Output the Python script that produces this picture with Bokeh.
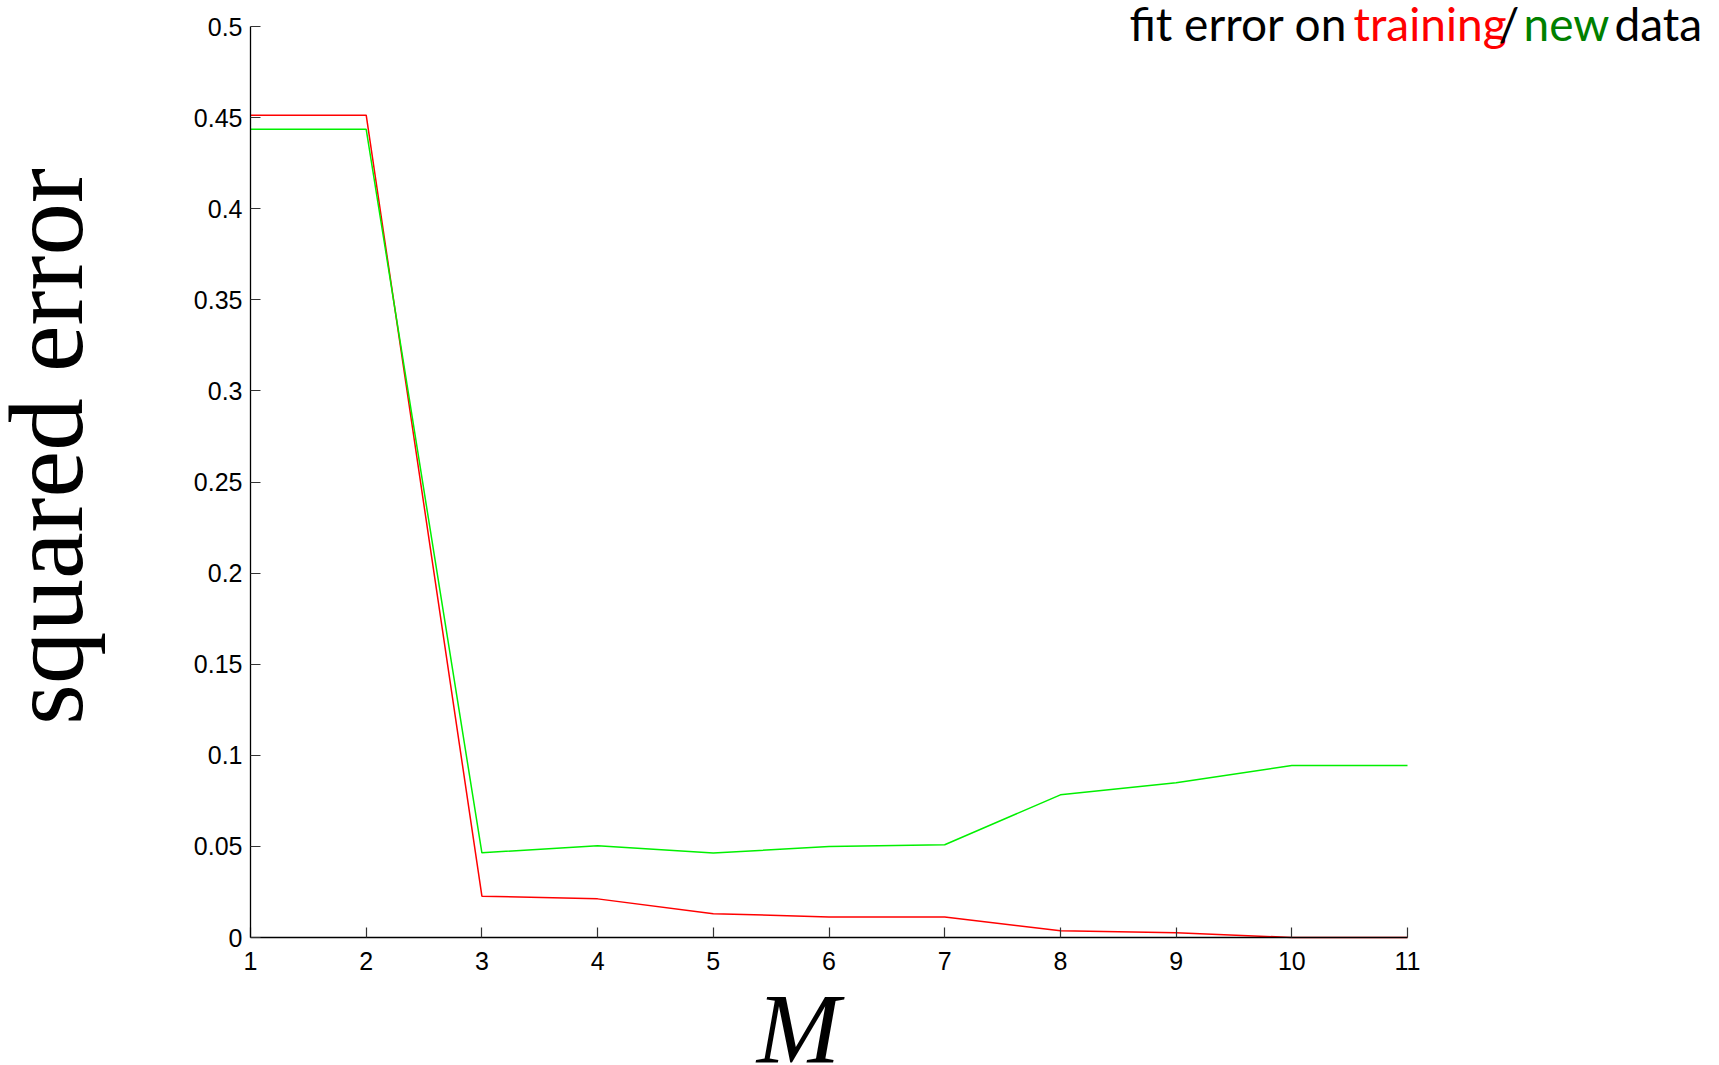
import math
from bokeh.plotting import figure
from bokeh.models import Range1d, FixedTicker, Label
from bokeh.embed import file_html
from bokeh.resources import INLINE

# ---- data ----
M = [1, 2, 3, 4, 5, 6, 7, 8, 9, 10, 11]
train_err = [0.4513, 0.4513, 0.0227, 0.0212, 0.0131, 0.0113, 0.0113, 0.0037, 0.0026, 0.0, 0.0]
new_err = [0.4436, 0.4436, 0.0465, 0.0503, 0.0464, 0.0499, 0.0509, 0.0783, 0.0849, 0.0944, 0.0944]

x_ticks = [1, 2, 3, 4, 5, 6, 7, 8, 9, 10, 11]
y_ticks = [0, 0.05, 0.1, 0.15, 0.2, 0.25, 0.3, 0.35, 0.4, 0.45, 0.5]
y_tick_labels = ["0", "0.05", "0.1", "0.15", "0.2", "0.25", "0.3", "0.35", "0.4", "0.45", "0.5"]

title_parts = ["fit error on", "training", "/", "new", "data"]
title_colors = ["#000000", "#FF0000", "#000000", "#008000", "#000000"]

# ---- layout (pixels in the 1719x1065 page) ----
W, H = 1719, 1065
AX_L, AX_R, AX_T, AX_B = 250, 1407, 26, 937   # where the axes box sits

x0, x1 = M[0], M[-1]
y0, y1 = y_ticks[0], y_ticks[-1]
px_x = (AX_R - AX_L) / (x1 - x0)
px_y = (AX_B - AX_T) / (y1 - y0)

# the plotting frame covers the whole canvas; axes are pinned at data locations
p = figure(width=W, height=H, output_backend="svg", toolbar_location=None,
           x_range=Range1d(x0 - AX_L / px_x, x1 + (W - AX_R) / px_x),
           y_range=Range1d(y0 - (H - AX_B) / px_y, y1 + AX_T / px_y),
           min_border=0)
p.outline_line_color = None
p.xgrid.visible = False
p.ygrid.visible = False
p.background_fill_color = "white"
p.border_fill_color = "white"

p.line(M, train_err, line_color="#FF0000", line_width=1.5)
p.line(M, new_err, line_color="#00F000", line_width=1.5)

for ax in (p.xaxis[0], p.yaxis[0]):
    ax.axis_line_color = "black"
    ax.axis_line_width = 1.3
    ax.major_tick_in = 10
    ax.major_tick_out = 0
    ax.major_tick_line_color = "#333333"
    ax.major_tick_line_width = 1.2
    ax.minor_tick_line_color = None
    ax.major_label_text_font = "Liberation Sans"
    ax.major_label_text_font_size = "25px"
    ax.major_label_text_color = "black"

p.xaxis[0].fixed_location = y0
p.xaxis[0].bounds = (x0, x1)
p.yaxis[0].fixed_location = x0
p.yaxis[0].bounds = (y0, y1)
p.xaxis[0].ticker = FixedTicker(ticks=x_ticks)
p.yaxis[0].ticker = FixedTicker(ticks=y_ticks)
p.yaxis[0].major_label_overrides = {t: s for t, s in zip(y_ticks, y_tick_labels)}
p.xaxis[0].major_label_standoff = 14
p.yaxis[0].major_label_standoff = 8

# y axis label (rotated, serif)
p.add_layout(Label(x=46, y=H - 446, x_units="screen", y_units="screen",
                   text="squared error", angle=math.pi / 2,
                   text_align="center", text_baseline="alphabetic",
                   text_font="Liberation Serif", text_font_size="105px",
                   text_color="black"))

# x axis label
p.add_layout(Label(x=798, y=H - 1061 + 33, x_units="screen", y_units="screen",
                   text="M", text_align="center", text_baseline="alphabetic",
                   text_font="Liberation Serif", text_font_style="italic",
                   text_font_size="100px", text_color="black"))

# multi-coloured title at top right
starts = [1129, 1353, 1498, 1523, 1614]
for txt, col, sx in zip(title_parts, title_colors, starts):
    p.add_layout(Label(x=sx, y=H - 23, x_units="screen", y_units="screen",
                       text=txt, text_align="left", text_baseline="alphabetic",
                       text_font="Lato", text_font_size="46px", text_color=col))

open("out.html", "w").write(file_html(p, INLINE))
